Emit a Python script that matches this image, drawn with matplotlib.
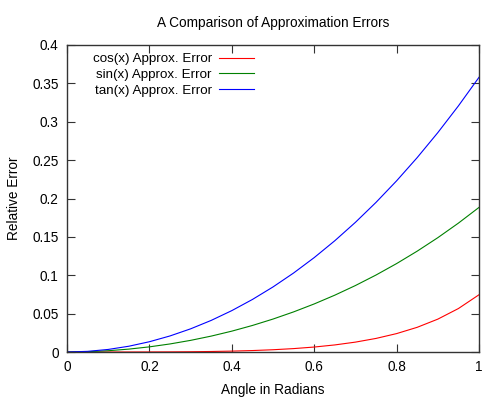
import matplotlib
matplotlib.use("Agg")
import matplotlib.pyplot as plt
from matplotlib.ticker import MultipleLocator

plt.rcParams['font.family'] = ['Liberation Sans', 'DejaVu Sans']

x = [0.0, 0.05, 0.1, 0.15, 0.2, 0.25, 0.3, 0.35, 0.4, 0.45, 0.5,
     0.55, 0.6, 0.65, 0.7, 0.75, 0.8, 0.85, 0.9, 0.95, 1.0]
cos_err = [0.0, 0.00000026, 0.0000042, 0.0000213, 0.0000679, 0.0001676,
           0.0003522, 0.0006629, 0.0011519, 0.0018847, 0.0029428,
           0.0044275, 0.0064648, 0.0092124, 0.012868, 0.017684,
           0.023980, 0.032172, 0.042809, 0.056617, 0.074581]
sin_err = [0.0, 0.000417, 0.001669, 0.003760, 0.006698, 0.010493,
           0.015159, 0.020712, 0.027173, 0.034565, 0.042915,
           0.052255, 0.062619, 0.074049, 0.086589, 0.100290,
           0.115206, 0.131402, 0.148945, 0.167915, 0.188395]
tan_err = [0.0, 0.000834, 0.003336, 0.007511, 0.013369, 0.020921,
           0.030182, 0.041171, 0.053911, 0.068429, 0.084756,
           0.102928, 0.122982, 0.144967, 0.168931, 0.194930,
           0.223028, 0.253294, 0.285804, 0.320644, 0.357907]
labels = ["cos(x) Approx. Error", "sin(x) Approx. Error", "tan(x) Approx. Error"]
colors = ["#ff0000", "#008000", "#0000ff"]

fig = plt.figure(figsize=(5, 4), dpi=100)
ax = fig.add_axes([67/500, 1-352/400, (479-67)/500, (352-45)/400])

for ys, lab, c in zip([cos_err, sin_err, tan_err], labels, colors):
    ax.plot(x, ys, color=c, lw=0.8, label=lab)

ax.set_xlim(0, 1)
ax.set_ylim(0, 0.4)
ax.xaxis.set_major_locator(MultipleLocator(0.2))
ax.yaxis.set_major_locator(MultipleLocator(0.05))

def fmt(v, pos):
    return f"{v:.2f}".rstrip('0').rstrip('.')
ax.xaxis.set_major_formatter(plt.FuncFormatter(fmt))
ax.yaxis.set_major_formatter(plt.FuncFormatter(fmt))

ax.tick_params(direction='in', length=6, width=0.8, color='#333333',
               top=True, right=True, labelsize=9.8, pad=6)
for sp in ax.spines.values():
    sp.set_color('#333333')
    sp.set_linewidth(1.0)

ax.set_xlabel("Angle in Radians", fontsize=9.8, labelpad=6)
ax.set_ylabel("Relative Error", fontsize=9.8, labelpad=8)
ax.set_title("A Comparison of Approximation Errors", fontsize=9.8, pad=13)

leg = ax.legend(loc='upper right', bbox_to_anchor=((254-67)/412, 1 - (53-45)/307),
                frameon=False, markerfirst=False, fontsize=9.6,
                handlelength=2.65, handletextpad=0.5, labelspacing=0.25,
                borderpad=0, borderaxespad=0)

fig.savefig("out.png", dpi=100)
